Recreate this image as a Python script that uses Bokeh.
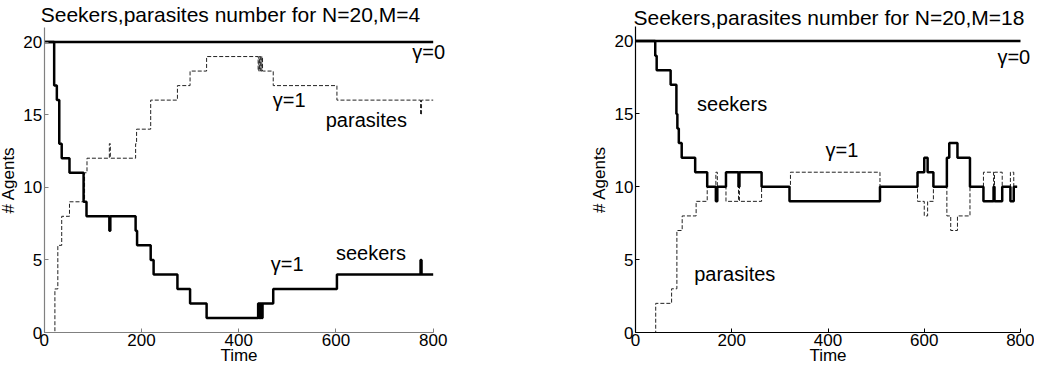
from bokeh.plotting import figure
from bokeh.layouts import row
from bokeh.models import Range1d, FixedTicker, Label
from bokeh.embed import file_html
from bokeh.resources import INLINE

# ---------------- data ----------------
x_ticks = [0, 200, 400, 600, 800]
y_ticks = [0, 5, 10, 15, 20]

# gamma = 0 (both panels): constant 20 agents
g0_t = [0, 800]
g0_v = [20, 20]

# Left panel: N=20, M=4 (gamma = 1), step change points
seekL_t = [0, 20.5, 26, 31, 36, 52, 81, 87, 134, 136, 188, 191, 219, 225, 274, 300, 334,
           440, 441.5, 443, 444.5, 446, 447.5, 449, 450.5, 471, 602, 774, 776, 800]
seekL_v = [20, 17, 16, 13, 12, 11, 9, 8, 7, 8, 7, 6, 5, 4, 3, 2, 1,
           2, 1, 2, 1, 2, 1, 2, 2, 3, 4, 5, 4, 4]
parL_t = [0, 22, 28, 36, 52, 83, 88, 134, 136, 188, 190, 219, 274, 300, 334,
          440, 441.5, 443, 444.5, 446, 447.5, 449, 450.5, 471, 602, 774, 776, 800]
parL_v = [0, 3, 6, 8, 9, 11, 12, 13, 12, 13, 14, 16, 17, 18, 19,
          18, 19, 18, 19, 18, 19, 18, 18, 17, 16, 15, 16, 16]

# Right panel: N=20, M=18 (gamma = 1)
seekR_t = [0, 41, 44, 73, 85, 87, 90, 96, 124, 149, 167, 170, 188, 214, 216, 262, 320,
           508, 586, 600, 607, 619, 647, 652, 669, 695, 723, 744, 746, 762, 779, 786, 793]
seekR_v = [20, 19, 18, 17, 15, 14, 13, 12, 11, 10, 9, 10, 11, 10, 11, 10, 9,
           10, 11, 12, 11, 10, 12, 13, 12, 10, 9, 10, 9, 10, 9, 10, 10]
parR_t = [0, 42, 75, 86, 97, 126, 149, 167, 170, 188, 214, 216, 262, 322,
          508, 586, 600, 607, 619, 647, 655, 669, 695, 723, 744, 746, 762, 779, 786, 793]
parR_v = [0, 2, 3, 7, 8, 9, 10, 11, 10, 9, 10, 9, 10, 11,
          10, 9, 8, 9, 10, 8, 7, 8, 10, 11, 10, 11, 10, 11, 10, 10]

FONT = "Liberation Sans"
FIG_H = 367


def make_panel(width, x0_px, x800_px, y0_px, y21_px, axis_color):
    # frame fills the whole figure; axes are pinned at 0 so the layout is exact
    sx = (x800_px - x0_px) / 800.0
    sy = (y0_px - y21_px) / 21.0
    xr = Range1d(-x0_px / sx, (width - x0_px) / sx)
    yr = Range1d(-(FIG_H - y0_px) / sy, 21 + y21_px / sy)
    p = figure(width=width, height=FIG_H, x_range=xr, y_range=yr,
               output_backend="svg", toolbar_location=None,
               min_border_left=0, min_border_right=0,
               min_border_top=0, min_border_bottom=0)
    p.xgrid.visible = False
    p.ygrid.visible = False
    p.outline_line_color = None
    p.background_fill_color = "white"
    p.border_fill_color = "white"
    p.xaxis.ticker = FixedTicker(ticks=x_ticks)
    p.yaxis.ticker = FixedTicker(ticks=y_ticks)
    p.xaxis.bounds = (0, 800)
    p.yaxis.bounds = (0, 21)
    p.xaxis.fixed_location = 0
    p.yaxis.fixed_location = 0
    p.xaxis.axis_label = "Time"
    p.yaxis.axis_label = "# Agents"
    for ax in (p.xaxis, p.yaxis):
        ax.axis_line_color = axis_color
        ax.axis_line_width = 1.2
        ax.major_tick_line_color = axis_color
        ax.major_tick_in = 4
        ax.major_tick_out = 0
        ax.minor_tick_in = 0
        ax.minor_tick_out = 0
        ax.major_label_text_font = FONT
        ax.major_label_text_font_size = "17px"
        ax.major_label_text_color = "black"
        ax.axis_label_text_font = FONT
        ax.axis_label_text_font_size = "17px"
        ax.axis_label_text_font_style = "normal"
        ax.axis_label_text_color = "black"
    p.xaxis.major_label_standoff = 1
    p.xaxis.axis_label_standoff = -3
    p.yaxis.major_label_standoff = 2
    p.yaxis.axis_label_standoff = 3
    return p


def add_text(p, x, y, txt, size="20px", align="left", baseline="middle"):
    p.add_layout(Label(x=x, y=y, text=txt, text_font=FONT, text_font_size=size,
                       text_baseline=baseline, text_align=align, text_color="black"))


# ---------------- left panel (figure spans page x 8..590) ----------------
p1 = make_panel(582, 51.7 - 8, 440.7 - 8, 340 - 8, 35 - 8, "#808080")
p1.line(g0_t, g0_v, line_color="black", line_width=2.5)
p1.step(parL_t, parL_v, mode="after", line_color="#222222", line_width=1, line_dash="4 2")
p1.step(seekL_t, seekL_v, mode="after", line_color="black", line_width=2.5)
add_text(p1, 383, 21.92, "Seekers,parasites number for N=20,M=4", size="21px",
         align="center", baseline="alphabetic")
add_text(p1, 757, 19.3, "γ=0")
add_text(p1, 470, 16.0, "γ=1")
add_text(p1, 579, 14.6, "parasites")
add_text(p1, 600, 5.5, "seekers")
add_text(p1, 466, 4.7, "γ=1")

# ---------------- right panel (figure spans page x 590..1042) ----------------
p2 = make_panel(452, 643 - 590, 1028 - 590, 340 - 8, 34 - 8, "black")
p2.line(g0_t, g0_v, line_color="black", line_width=2.5)
p2.step(parR_t, parR_v, mode="after", line_color="#222222", line_width=1, line_dash="4 2")
p2.step(seekR_t, seekR_v, mode="after", line_color="black", line_width=2.5)
add_text(p2, 402, 21.62, "Seekers,parasites number for N=20,M=18", size="21px",
         align="center", baseline="alphabetic")
add_text(p2, 752, 18.9, "γ=0")
add_text(p2, 395, 12.5, "γ=1")
add_text(p2, 128, 15.7, "seekers")
add_text(p2, 122, 4.0, "parasites")

layout = row(p1, p2, spacing=0)
open("out.html", "w").write(file_html(layout, INLINE))
